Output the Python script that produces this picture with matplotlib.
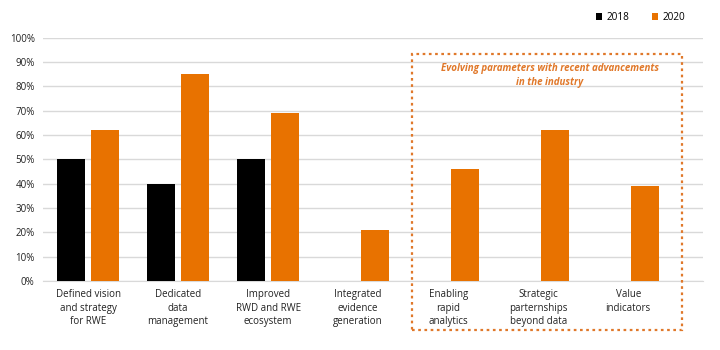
import matplotlib
matplotlib.use("Agg")
import matplotlib.pyplot as plt
from matplotlib.patches import Rectangle
import numpy as np

plt.rcParams['font.family'] = ['Open Sans', 'DejaVu Sans']

categories = ["Defined vision\nand strategy\nfor RWE", "Dedicated\ndata\nmanagement",
              "Improved\nRWD and RWE\necosystem", "Integrated\nevidence\ngeneration",
              "Enabling\nrapid\nanalytics", "Strategic\nparternships\nbeyond data",
              "Value\nindicators"]
v2018 = [50, 40, 50, np.nan, np.nan, np.nan, np.nan]
v2020 = [62, 85, 69, 21, 46, 62, 39]
yticks = [0, 10, 20, 30, 40, 50, 60, 70, 80, 90, 100]

ORANGE = "#E87200"
BOX = "#E0782A"

fig = plt.figure(figsize=(7.2, 3.5), dpi=100)
ax = fig.add_axes([43/720, 1-281/350, 660/720, (281-37.6)/350])

x = np.arange(len(categories))
w = 0.31
off = 0.19
ax.bar(x - off, v2018, w, color="black", label="2018", zorder=3)
ax.bar(x + off, v2020, w, color=ORANGE, label="2020", zorder=3)

ax.set_ylim(0, 100)
ax.set_xlim(-0.5, 6.83)
ax.set_yticks(yticks)
ax.set_yticklabels([f"{t}%" for t in yticks], fontsize=7, color="#222222")
ax.set_xticks(x)
ax.set_xticklabels(categories, fontsize=7, color="#222222", linespacing=1.3)
ax.tick_params(axis="both", length=0)
ax.tick_params(axis="x", pad=6)
ax.tick_params(axis="y", pad=6)
ax.yaxis.grid(True, color="#D9D9D9", linewidth=1, zorder=0)
for s in ["top", "right", "left"]:
    ax.spines[s].set_visible(False)
ax.spines["bottom"].set_color("#D9D9D9")

leg = fig.legend(loc="upper right", bbox_to_anchor=(694/720, 1-3/350), ncol=2,
                 frameon=False, fontsize=7.2, handlelength=0.6, handleheight=0.6,
                 columnspacing=2.3, handletextpad=0.4)

rect = Rectangle((412/720, 1-330/350), (682-412)/720, (330-54)/350,
                 transform=fig.transFigure, fill=False, edgecolor=BOX,
                 linestyle=(0, (1.2, 1.6)), linewidth=1.6, clip_on=False)
fig.patches.append(rect)
fig.text(550/720, 1-75.5/350, "Evolving parameters with recent advancements\nin the industry",
         ha="center", va="center", fontsize=7, color=BOX, style="italic",
         fontweight="bold", linespacing=1.4)

fig.savefig("out.png", dpi=100)
